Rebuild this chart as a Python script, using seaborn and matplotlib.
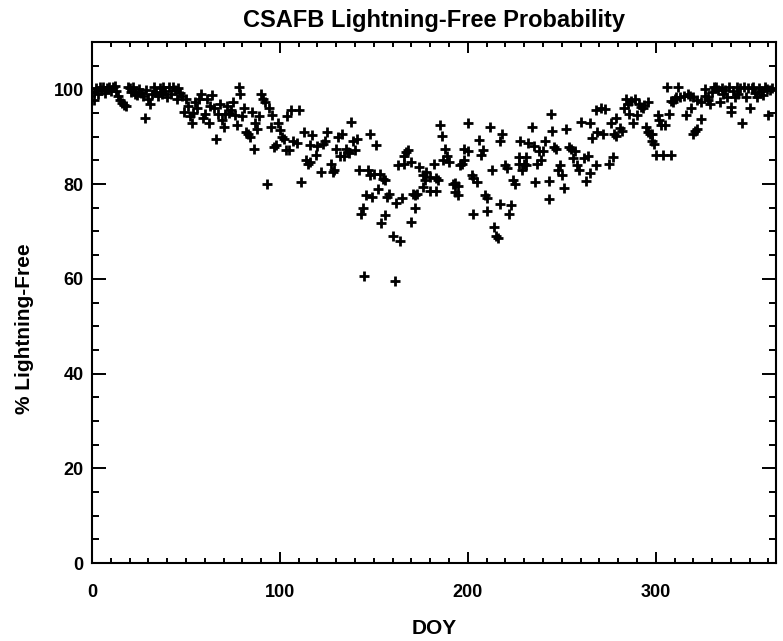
import matplotlib
matplotlib.use("Agg")
import matplotlib.pyplot as plt
import seaborn as sns
import pandas as pd
from matplotlib.ticker import MultipleLocator

# day of year and % lightning-free
doy = [
    1, 1, 2, 3, 4, 5, 6, 7, 8, 9, 10, 11, 12, 13, 14, 15, 16, 17, 18, 19,
    20, 21, 22, 23, 24, 25, 26, 27, 28, 29, 30, 31, 32, 33, 34, 35, 36, 37, 38, 39,
    40, 41, 42, 43, 44, 45, 46, 47, 48, 49, 50, 51, 52, 53, 54, 55, 56, 57, 58, 59,
    60, 61, 62, 63, 64, 65, 66, 67, 68, 69, 70, 71, 72, 73, 74, 75, 76, 77, 78, 79,
    80, 81, 82, 83, 84, 85, 86, 87, 88, 89, 90, 91, 92, 93, 94, 95, 96, 97, 98, 99,
    100, 101, 102, 103, 104, 105, 106, 107, 109, 110, 111, 113, 114, 115, 116, 116, 117, 119, 120, 122,
    123, 124, 125, 127, 128, 129, 130, 131, 132, 133, 134, 135, 136, 137, 138, 139, 140, 141, 142, 143,
    144, 145, 146, 147, 148, 148, 149, 150, 151, 152, 153, 154, 155, 156, 156, 157, 158, 160, 161, 162,
    163, 164, 165, 166, 166, 167, 168, 170, 170, 171, 172, 172, 173, 174, 176, 176, 177, 178, 180, 180,
    182, 183, 183, 184, 185, 186, 187, 188, 189, 190, 192, 193, 193, 195, 195, 196, 197, 198, 198, 200,
    200, 202, 203, 203, 205, 206, 207, 208, 209, 210, 210, 212, 213, 214, 215, 216, 217, 217, 218, 220,
    221, 222, 223, 224, 225, 227, 227, 228, 229, 230, 231, 231, 232, 234, 235, 236, 237, 238, 239, 240,
    241, 243, 243, 244, 245, 246, 247, 248, 249, 250, 251, 252, 254, 255, 256, 257, 258, 259, 260, 262,
    263, 264, 265, 265, 266, 268, 268, 269, 271, 272, 273, 275, 276, 277, 278, 279, 279, 281, 282, 283,
    284, 285, 286, 287, 288, 289, 290, 291, 292, 293, 294, 295, 296, 296, 297, 298, 298, 299, 300, 301,
    302, 303, 304, 305, 306, 307, 308, 308, 309, 310, 311, 312, 313, 315, 316, 317, 318, 319, 320, 320,
    321, 322, 322, 324, 324, 326, 326, 328, 328, 329, 330, 331, 332, 333, 334, 335, 336, 337, 338, 339,
    340, 340, 341, 342, 343, 344, 345, 346, 347, 348, 349, 350, 351, 352, 353, 354, 355, 356, 357, 358,
    359, 360, 361, 362,
]
pct = [
    99.5, 97.8, 100.2, 99.0, 100.4, 99.8, 100.6, 99.3, 100.2, 100.5, 99.7, 100.4, 100.7, 99.6, 98.5, 97.8, 97.2, 96.8, 96.4, 100.6,
    100.2, 99.4, 100.5, 99.0, 98.8, 100.0, 99.2, 98.6, 93.9, 99.8, 98.0, 97.0, 99.0, 100.6, 99.5, 98.5, 100.2, 99.0, 100.6, 99.6,
    98.3, 100.4, 99.1, 100.6, 99.8, 98.0, 100.3, 99.2, 98.6, 95.3, 97.9, 96.5, 94.3, 92.8, 95.0, 97.4, 96.0, 97.9, 99.0, 94.0,
    94.7, 97.9, 92.8, 96.5, 98.9, 96.0, 89.6, 94.7, 97.0, 93.6, 92.1, 94.7, 96.5, 95.0, 95.7, 97.4, 94.5, 92.5, 100.5, 99.0,
    94.3, 96.0, 91.0, 90.6, 90.0, 95.3, 87.4, 92.8, 91.7, 94.3, 99.0, 98.0, 97.4, 80.0, 96.0, 92.0, 94.5, 87.9, 88.2, 93.0,
    91.5, 90.0, 89.6, 87.2, 94.3, 87.2, 95.7, 89.0, 88.7, 95.7, 80.4, 91.0, 85.0, 84.3, 84.6, 88.3, 90.4, 86.2, 88.0, 82.5,
    88.5, 89.0, 91.0, 84.3, 82.5, 83.0, 87.4, 90.0, 86.0, 90.6, 85.9, 87.4, 86.8, 86.5, 93.2, 89.0, 87.2, 89.5, 83.0, 73.6,
    75.0, 60.6, 77.7, 83.0, 90.6, 82.0, 77.3, 82.2, 88.3, 79.0, 82.2, 71.7, 81.0, 73.4, 80.8, 77.3, 78.0, 69.0, 59.6, 76.0,
    84.0, 68.0, 77.0, 84.3, 86.0, 86.8, 87.2, 84.6, 72.0, 78.0, 77.8, 75.0, 78.0, 83.6, 82.0, 79.4, 80.8, 82.5, 81.6, 78.5,
    84.3, 81.2, 78.5, 80.9, 92.5, 90.2, 85.0, 87.4, 85.9, 84.7, 80.0, 80.3, 78.4, 79.5, 77.7, 84.0, 84.3, 85.0, 87.4, 87.0,
    92.8, 82.0, 81.3, 73.7, 80.5, 89.4, 86.2, 87.2, 77.7, 77.0, 74.3, 92.1, 83.0, 70.9, 69.0, 68.7, 75.7, 89.0, 90.5, 84.0,
    83.5, 73.6, 75.5, 80.8, 80.0, 85.7, 84.3, 89.0, 83.0, 84.3, 85.8, 84.0, 88.7, 92.1, 88.0, 80.5, 84.3, 87.0, 85.0, 87.0,
    89.2, 80.6, 76.8, 94.9, 91.3, 87.9, 87.5, 83.0, 84.0, 82.0, 79.2, 91.7, 87.9, 87.4, 85.5, 87.0, 84.0, 83.0, 93.2, 85.5,
    80.6, 86.0, 82.4, 93.0, 89.8, 84.0, 95.7, 90.9, 96.0, 90.6, 95.8, 84.3, 93.0, 85.7, 90.6, 94.0, 90.2, 91.9, 91.3, 96.0,
    98.0, 97.0, 94.7, 97.6, 92.8, 98.0, 94.5, 97.0, 96.3, 96.0, 96.6, 92.1, 97.4, 91.0, 90.6, 90.6, 89.0, 88.5, 86.2, 94.5,
    93.5, 92.5, 86.2, 92.5, 100.6, 94.9, 97.6, 86.2, 97.3, 98.0, 98.3, 100.6, 98.3, 98.7, 94.5, 99.0, 98.7, 96.0, 98.3, 90.6,
    91.3, 91.7, 97.7, 93.7, 97.4, 98.7, 100.0, 98.3, 97.7, 97.0, 99.5, 100.6, 100.4, 99.9, 97.4, 100.2, 99.0, 99.9, 98.3, 100.5,
    96.3, 95.3, 99.6, 98.3, 100.6, 99.0, 100.2, 93.0, 100.6, 98.3, 100.2, 96.0, 100.2, 100.6, 99.2, 98.3, 100.2, 99.6, 98.8, 100.6,
    100.0, 94.5, 99.9, 100.2,
]

df = pd.DataFrame({"DOY": doy, "pct": pct})

sns.set_style("white")
plt.rcParams["font.family"] = ["Liberation Sans", "DejaVu Sans"]
plt.rcParams["font.weight"] = "bold"
plt.rcParams["text.color"] = "black"
plt.rcParams["axes.labelcolor"] = "black"
plt.rcParams["xtick.color"] = "black"
plt.rcParams["ytick.color"] = "black"

fig = plt.figure(figsize=(7.83, 6.41), dpi=100)
ax = fig.add_axes([92 / 783, 1 - 563 / 641, (776 - 92) / 783, (563 - 42) / 641])

sns.scatterplot(data=df, x="DOY", y="pct", marker="+", color="black",
                s=60, linewidth=2.0, ax=ax, legend=False)

ax.set_xlim(0, 364)
ax.set_ylim(0, 110)

# IDL-style ticks: inward, on every side, minor ticks in between
ax.xaxis.set_major_locator(MultipleLocator(100))
ax.xaxis.set_minor_locator(MultipleLocator(10))
ax.yaxis.set_major_locator(MultipleLocator(20))
ax.yaxis.set_minor_locator(MultipleLocator(5))
ax.tick_params(axis="x", which="both", direction="in", top=True, bottom=True,
               width=1.4, labelsize=13, pad=15)
ax.tick_params(axis="x", which="major", length=8)
ax.tick_params(axis="x", which="minor", length=3.8)
ax.tick_params(axis="y", which="both", direction="in", left=True, right=True,
               width=1.4, labelsize=13, pad=6)
ax.tick_params(axis="y", which="major", length=10)
ax.tick_params(axis="y", which="minor", length=5)
for lab in ax.get_xticklabels() + ax.get_yticklabels():
    lab.set_fontweight("bold")

for spine in ax.spines.values():
    spine.set_visible(True)
    spine.set_color("black")
    spine.set_linewidth(1.5)

ax.set_title("CSAFB Lightning-Free Probability", fontsize=17, fontweight="bold", pad=11)
ax.set_xlabel("DOY", fontsize=15, fontweight="bold", labelpad=13)
ax.set_ylabel("% Lightning-Free", fontsize=15, fontweight="bold")
ax.yaxis.set_label_coords(-0.085, 0.45)

fig.savefig("out.png", dpi=100, facecolor="white")
